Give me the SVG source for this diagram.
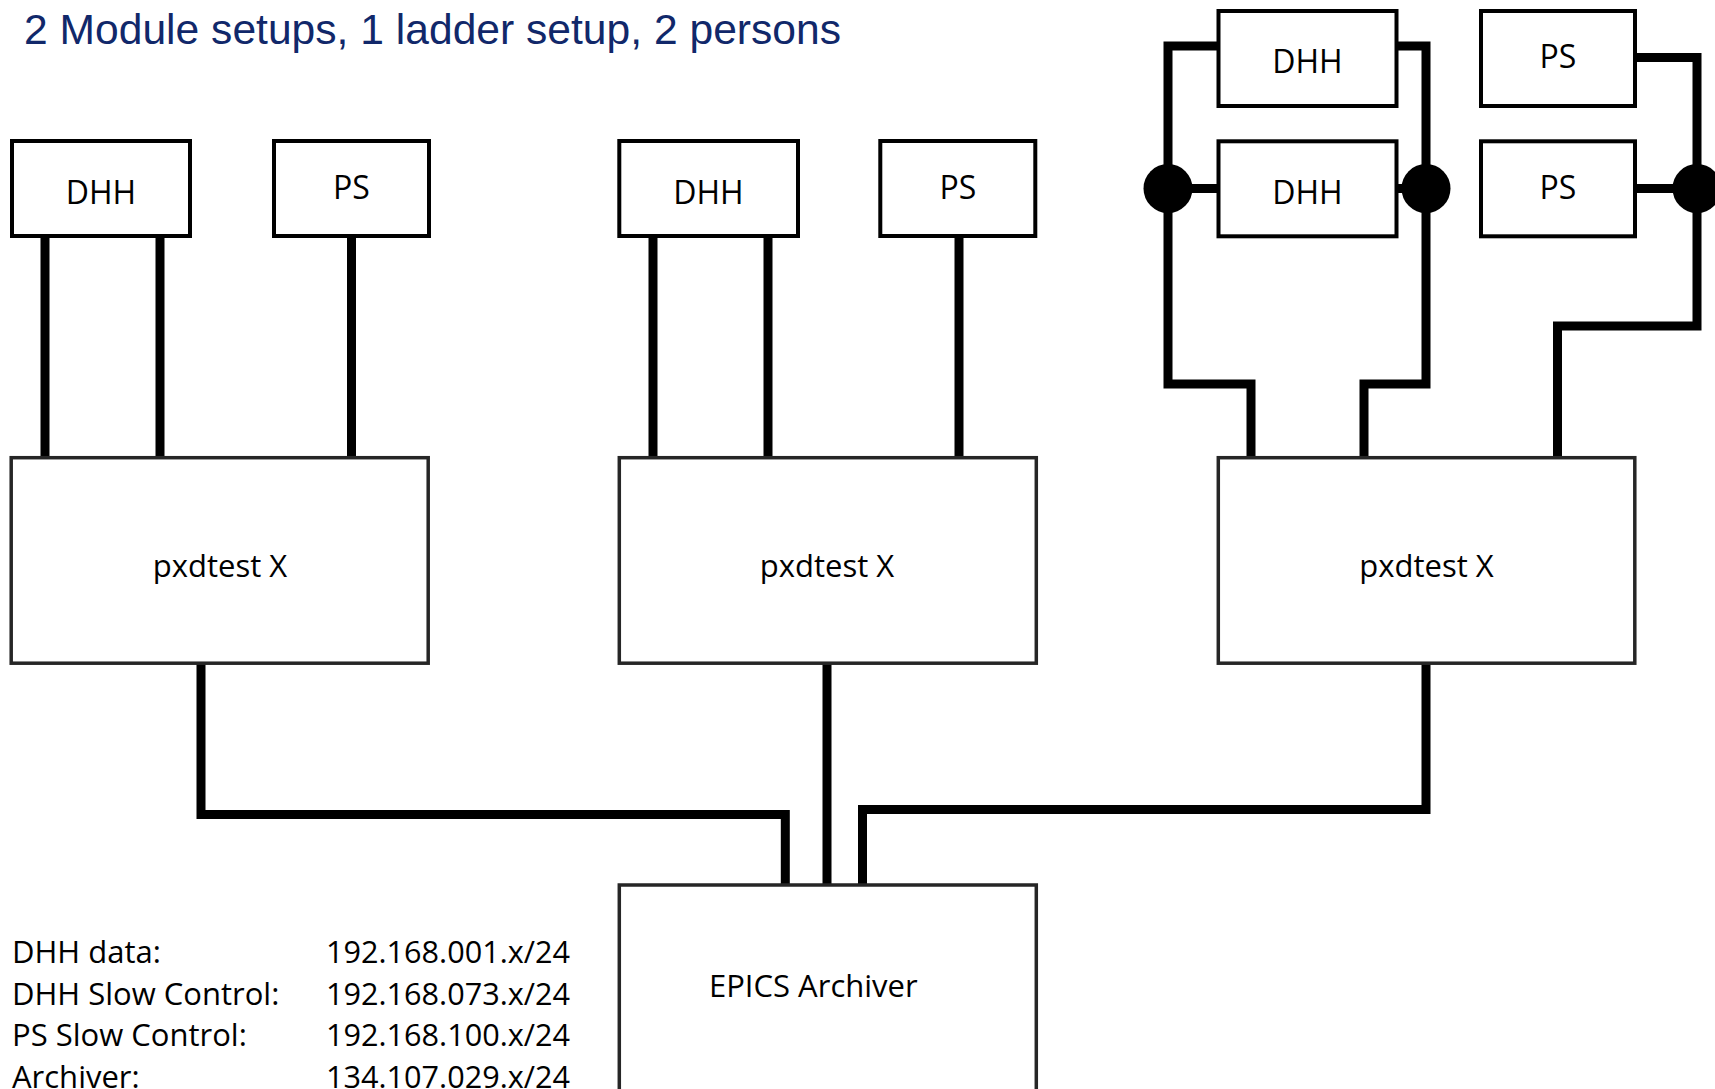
<svg xmlns="http://www.w3.org/2000/svg" width="1715" height="1089" viewBox="0 0 1715 1089">
<style>
.bg{fill:#fff}
.sb{fill:#fff;stroke:#000;stroke-width:4}
.bb{fill:#fff;stroke:#262626;stroke-width:3.5}
.lbl{font-family:"Open Sans","Noto Sans",sans-serif;font-size:32px;fill:#000;text-anchor:middle}
.big{font-family:"Open Sans","Noto Sans",sans-serif;font-size:31px;fill:#000;text-anchor:middle}
.leg{font-family:"Open Sans","Noto Sans",sans-serif;font-size:31px;fill:#000}
.title{font-family:"Liberation Sans",Arial,sans-serif;font-size:42.5px;fill:#11286a}
.c{fill:none;stroke:#000;stroke-width:9;stroke-linejoin:miter;stroke-linecap:butt}
.dot{fill:#000}
</style>
<rect class="bg" x="0" y="0" width="1715" height="1089"/>
<text id="title" class="title" x="24" y="44" textLength="817" lengthAdjust="spacingAndGlyphs">2 Module setups, 1 ladder setup, 2 persons</text>

<g id="connectors">
  <!-- module 1 -->
  <path class="c" d="M45 237V457"/>
  <path class="c" d="M160 237V457"/>
  <path class="c" d="M351.5 237V457"/>
  <!-- module 2 -->
  <path class="c" d="M653 237V457"/>
  <path class="c" d="M768 237V457"/>
  <path class="c" d="M959 237V457"/>
  <!-- module 3 (ladder) -->
  <path class="c" d="M1218 46H1168V384H1251V457"/>
  <path class="c" d="M1397 46H1426V384H1364V457"/>
  <path class="c" d="M1168 188.5H1218"/>
  <path class="c" d="M1397 188.5H1426"/>
  <path class="c" d="M1636 57.5H1697V326H1557.5V457"/>
  <path class="c" d="M1636 188.5H1697"/>
  <circle class="dot" cx="1168" cy="188.5" r="24.5"/>
  <circle class="dot" cx="1426" cy="188.5" r="24.5"/>
  <circle class="dot" cx="1697" cy="188.5" r="24.5"/>
  <!-- to archiver -->
  <path class="c" d="M201 664V814.5H785.3V885"/>
  <path class="c" d="M827 664V885"/>
  <path class="c" d="M1426 664V809.5H862.5V885"/>
</g>

<g id="dhh1"><rect class="sb" x="12" y="141" width="178" height="95"/><text class="lbl" x="101" y="204">DHH</text></g>
<g id="ps1"><rect class="sb" x="274" y="141" width="155" height="95"/><text class="lbl" x="351.5" y="199">PS</text></g>
<g id="pxd1"><rect class="bb" x="11.2" y="457.7" width="417" height="205.5"/><text class="big" x="220" y="577">pxdtest X</text></g>

<g id="dhh2"><rect class="sb" x="619.3" y="141" width="178.7" height="95"/><text class="lbl" x="708.5" y="204">DHH</text></g>
<g id="ps2"><rect class="sb" x="880.3" y="141" width="155" height="95"/><text class="lbl" x="958" y="199">PS</text></g>
<g id="pxd2"><rect class="bb" x="619.3" y="457.7" width="417" height="205.5"/><text class="big" x="827" y="577">pxdtest X</text></g>

<g id="dhh3a"><rect class="sb" x="1218.5" y="11" width="178" height="95"/><text class="lbl" x="1307.5" y="73">DHH</text></g>
<g id="dhh3b"><rect class="sb" x="1218.5" y="141.3" width="178" height="95"/><text class="lbl" x="1307.5" y="204">DHH</text></g>
<g id="ps3a"><rect class="sb" x="1481" y="11" width="154" height="95"/><text class="lbl" x="1558" y="68">PS</text></g>
<g id="ps3b"><rect class="sb" x="1481" y="141.3" width="154" height="95"/><text class="lbl" x="1558" y="199">PS</text></g>
<g id="pxd3"><rect class="bb" x="1218.3" y="457.7" width="416.5" height="205.5"/><text class="big" x="1426.5" y="577">pxdtest X</text></g>

<g id="epics"><rect class="bb" x="619.3" y="885" width="417" height="230"/><text class="leg" x="709" y="997">EPICS Archiver</text></g>

<g id="legend">
  <text class="leg" x="12" y="963">DHH data:</text>
  <text class="leg" x="12" y="1004.5">DHH Slow Control:</text>
  <text class="leg" x="12" y="1046">PS Slow Control:</text>
  <text class="leg" x="12" y="1087.5">Archiver:</text>
  <text class="leg" x="326" y="963" textLength="244" lengthAdjust="spacingAndGlyphs">192.168.001.x/24</text>
  <text class="leg" x="326" y="1004.5" textLength="244" lengthAdjust="spacingAndGlyphs">192.168.073.x/24</text>
  <text class="leg" x="326" y="1046" textLength="244" lengthAdjust="spacingAndGlyphs">192.168.100.x/24</text>
  <text class="leg" x="326" y="1087.5" textLength="244" lengthAdjust="spacingAndGlyphs">134.107.029.x/24</text>
</g>
</svg>
